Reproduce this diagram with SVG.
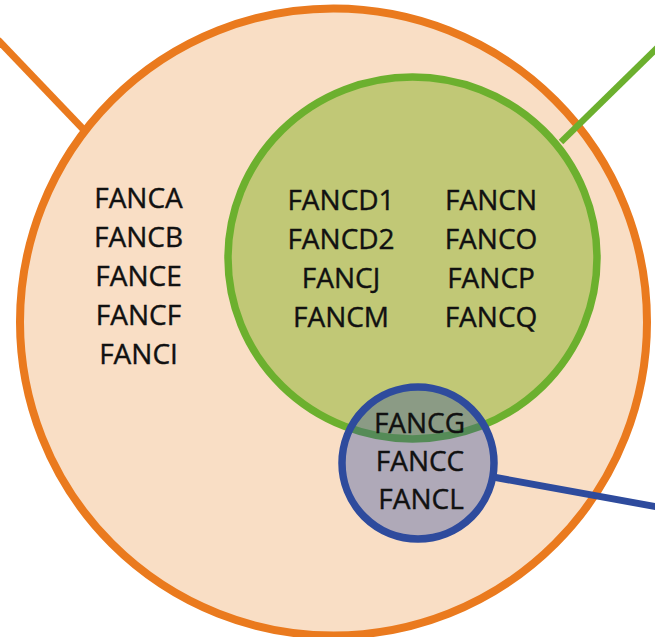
<svg xmlns="http://www.w3.org/2000/svg" width="655" height="637" viewBox="0 0 655 637">
  <style>
    text { font-family: "Open Sans", "Liberation Sans", sans-serif; font-size: 28px; fill: #111111; stroke: #111111; stroke-width: 0.4; text-anchor: middle; }
    .orange { fill: #f9dec5; stroke: #ea7a1e; stroke-width: 8; }
    .green { fill: #c1c876; stroke: #6cb02e; stroke-width: 7.5; }
    .blue { fill: #2b4aa0; fill-opacity: 0.36; stroke: #2e4b9d; stroke-width: 7.5; }
  </style>
  <rect x="0" y="0" width="655" height="637" fill="#ffffff"/>
  <g id="node-outer">
    <circle class="orange" cx="333.5" cy="322" r="313.5"/>
    <text x="138.5" y="208">FANCA</text>
    <text x="138.5" y="247">FANCB</text>
    <text x="138.5" y="286">FANCE</text>
    <text x="138.5" y="325">FANCF</text>
    <text x="138.5" y="364">FANCI</text>
  </g>
  <g id="node-middle">
    <ellipse class="green" cx="412.5" cy="258" rx="184.5" ry="181"/>
    <text x="341" y="210">FANCD1</text>
    <text x="341" y="249">FANCD2</text>
    <text x="341" y="288">FANCJ</text>
    <text x="341" y="327">FANCM</text>
    <text x="491" y="210">FANCN</text>
    <text x="491" y="249">FANCO</text>
    <text x="491" y="288">FANCP</text>
    <text x="491" y="327">FANCQ</text>
  </g>
  <g id="node-inner">
    <circle class="blue" cx="418" cy="463" r="76"/>
    <text x="419.5" y="433">FANCG</text>
    <text x="420" y="471">FANCC</text>
    <text x="421" y="509">FANCL</text>
  </g>
  <g id="connectors" fill="none">
    <line x1="-2" y1="40" x2="84" y2="130" stroke="#ea7a1e" stroke-width="7"/>
    <line x1="658" y1="47" x2="561" y2="142" stroke="#6cb02e" stroke-width="6.5"/>
    <line x1="493" y1="477" x2="658" y2="507" stroke="#2e4b9d" stroke-width="7"/>
  </g>
</svg>
